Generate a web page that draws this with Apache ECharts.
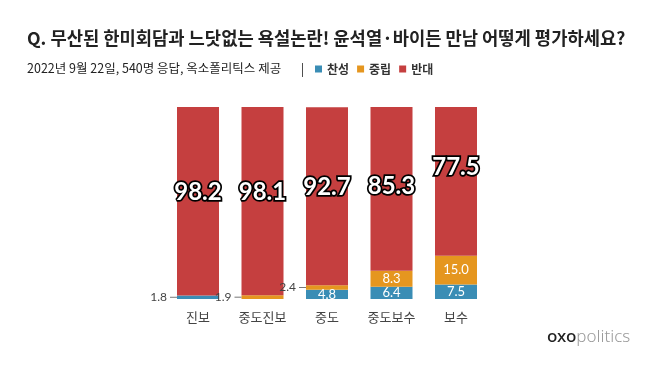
<!DOCTYPE html>
<html><head><meta charset="utf-8">
<script src="https://cdn.jsdelivr.net/npm/echarts@6/dist/echarts.min.js"></script>
<style>html,body{margin:0;padding:0;background:#fff}#c{width:658px;height:368px}</style>
</head><body><div id="c"></div>
<script>
const categories = ['진보', '중도진보', '중도', '중도보수', '보수'];
const favor   = [1.8, null, 4.8, 6.4, 7.5];
const neutral = [null, 1.9, 2.4, 8.3, 15.0];
const oppose  = [98.2, 98.1, 92.7, 85.3, 77.5];
const seriesNames = ['찬성', '중립', '반대'];
const titleText = 'Q. 무산된 한미회담과 느닷없는 욕설논란! 윤석열·바이든 만남 어떻게 평가하세요?';
const subText = '2022년 9월 22일, 540명 응답, 옥소폴리틱스 제공';

const colors = ['#3a8db5', '#e5961f', '#c53f3f'];
const bigLabelDy = [-9, -9, -9, -3, -14];
const KR = '"Noto Sans CJK KR", "Noto Sans", sans-serif';
const NUM = 'Lato, "Noto Sans", sans-serif';

function smallItems(arr) {
  return arr.map(v => {
    if (v == null) return '-';
    if (v < 3) {
      return {
        value: v,
        label: {show: true, position: 'left', distance: 0,
          formatter: p => '{v|' + Number(p.value).toFixed(1) + '}{s|}{l|}',
          rich: {
            v: {color: '#444', fontSize: 12, fontFamily: NUM},
            s: {width: 3},
            l: {width: 7, height: 1, backgroundColor: '#777'}
          }}
      };
    }
    return {value: v};
  });
}

const chart = echarts.init(document.getElementById('c'), null, {renderer: 'canvas'});
chart.setOption({
  backgroundColor: '#fff',
  animation: false,
  color: colors,
  title: [{
    text: titleText, left: 22, top: 24,
    textStyle: {fontFamily: KR, fontSize: 17.7, fontWeight: 'bold', color: '#222'}
  }, {
    text: subText + '       |', left: 22, top: 57,
    textStyle: {fontFamily: KR, fontSize: 12.5, fontWeight: 'normal', color: '#222'}
  }],
  legend: {
    data: seriesNames, left: 310, top: 58, itemWidth: 7, itemHeight: 7, itemGap: 8,
    icon: 'rect',
    textStyle: {fontFamily: KR, fontSize: 12, fontWeight: 'bold', color: '#333'}
  },
  grid: {left: 165.75, width: 322.5, top: 107, height: 192},
  xAxis: {
    type: 'category', data: categories,
    axisLine: {show: false}, axisTick: {show: false},
    axisLabel: {margin: 12, fontFamily: KR, fontSize: 13, color: '#444'}
  },
  yAxis: {type: 'value', min: 0, max: 100, show: false, splitLine: {show: false}},
  series: [{
    name: seriesNames[0], type: 'bar', stack: 's', barWidth: 42,
    data: smallItems(favor),
    label: {show: true, position: 'inside', color: '#fff', fontSize: 13, fontFamily: NUM,
      formatter: p => Number(p.value).toFixed(1)}
  }, {
    name: seriesNames[1], type: 'bar', stack: 's', barWidth: 42,
    data: smallItems(neutral),
    label: {show: true, position: 'inside', color: '#fff', fontSize: 13, fontFamily: NUM,
      formatter: p => Number(p.value).toFixed(1)}
  }, {
    name: seriesNames[2], type: 'bar', stack: 's', barWidth: 42,
    data: oppose.map((v, i) => ({value: v, label: {offset: [0, bigLabelDy[i]]}})),
    label: {show: true, position: 'inside', color: '#fff', fontSize: 24, fontWeight: 'bold',
      fontFamily: NUM, textBorderColor: '#000', textBorderWidth: 3.5,
      textShadowColor: '#000', textShadowBlur: 0, textShadowOffsetX: 1, textShadowOffsetY: 2,
      formatter: p => Number(p.value).toFixed(1)}
  }],
  graphic: [{
    type: 'text', left: 547, top: 329,
    style: {
      text: '{a|oxo}{b|politics}',
      rich: {
        a: {fontFamily: '"Noto Sans", sans-serif', fontSize: 17, fontWeight: 500, fill: '#222'},
        b: {fontFamily: '"Noto Sans", sans-serif', fontSize: 17, fontWeight: 300, fill: '#9a9a9a'}
      }
    }
  }]
});
</script>
</body></html>
